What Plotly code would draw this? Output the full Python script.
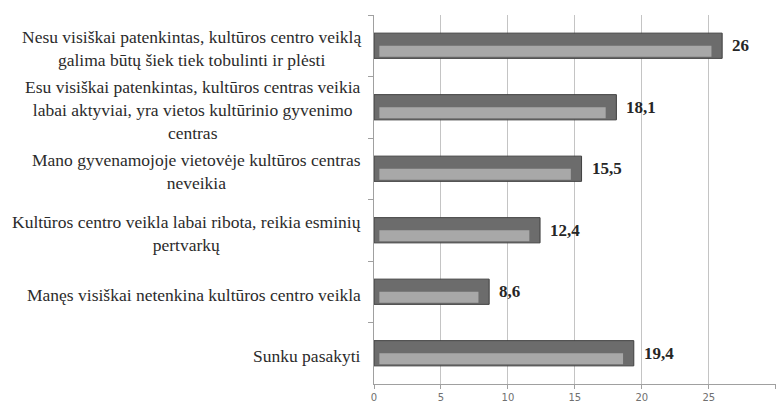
import plotly.graph_objects as go

# -- Datos ---------------------------------------------------------------------
categorias = [
    "Nesu visiškai patenkintas, kultūros centro veiklą<br>galima būtų šiek tiek tobulinti ir plėsti",
    "Esu visiškai patenkintas, kultūros centras veikia<br>labai aktyviai, yra vietos kultūrinio gyvenimo<br>centras",
    "Mano gyvenamojoje vietovėje kultūros centras<br>neveikia",
    "Kultūros centro veikla labai ribota, reikia esminių<br>pertvarkų",
    "Manęs visiškai netenkina kultūros centro veikla",
    "Sunku pasakyti",
]
valores = [26, 18.1, 15.5, 12.4, 8.6, 19.4]
etiquetas = ["26", "18,1", "15,5", "12,4", "8,6", "19,4"]
ticks_x = [0, 5, 10, 15, 20, 25, 30]

FUENTE = "Liberation Serif"

# -- Grafico -------------------------------------------------------------------
fig = go.Figure()

# barra principal (parte oscura con borde)
fig.add_trace(go.Bar(
    y=categorias, x=valores, orientation="h",
    width=0.41, offset=-0.205,
    marker=dict(color="#6c6c6c", line=dict(color="#3f3f3f", width=1)),
    hoverinfo="skip", showlegend=False,
))

# franja clara inferior para imitar el biselado
fig.add_trace(go.Bar(
    y=categorias, x=[v - 1.2 for v in valores], base=0.4, orientation="h",
    width=0.18, offset=0.0,
    marker=dict(color="#a8a8a8", line=dict(width=0)),
    hoverinfo="skip", showlegend=False,
))

# etiquetas de categoria (centradas por linea, alineadas a la derecha)
for cat in categorias:
    fig.add_annotation(
        x=0, xref="paper", y=cat, yref="y",
        text=cat, showarrow=False,
        xanchor="right", xshift=-11, yshift=-3, align="center",
        font=dict(family=FUENTE, size=17.5, color="#2b2b2b"),
    )

# valores al final de cada barra
for cat, v, et in zip(categorias, valores, etiquetas):
    fig.add_annotation(
        x=v, y=cat, text=f"<b>{et}</b>", showarrow=False,
        xanchor="left", xshift=8,
        font=dict(family=FUENTE, size=17, color="#262626"),
    )

fig.update_layout(
    width=780, height=405,
    margin=dict(l=374, r=4, t=15, b=21),
    plot_bgcolor="white", paper_bgcolor="white",
    barmode="overlay",
    xaxis=dict(
        range=[0, 30.02], tickvals=ticks_x,
        showgrid=True, gridcolor="#c4c4c4", gridwidth=1,
        showline=True, linecolor="#a0a0a0", linewidth=1,
        ticks="outside", ticklen=4, tickcolor="#a0a0a0",
        tickfont=dict(family="DejaVu Sans", size=10, color="#707070"),
        zeroline=False, fixedrange=True, automargin=False,
    ),
    yaxis=dict(
        categoryorder="array", categoryarray=categorias,
        autorange="reversed", showticklabels=False,
        showline=True, linecolor="#a0a0a0", linewidth=1,
        ticks="outside", tickson="boundaries", ticklen=5, tickcolor="#a0a0a0",
        showgrid=False, fixedrange=True,
    ),
)

# quitar el margen del body para que la figura empiece en (0, 0)
fig.write_html("out.html", config={"displayModeBar": False},
               post_script="document.body.style.margin='0';")
